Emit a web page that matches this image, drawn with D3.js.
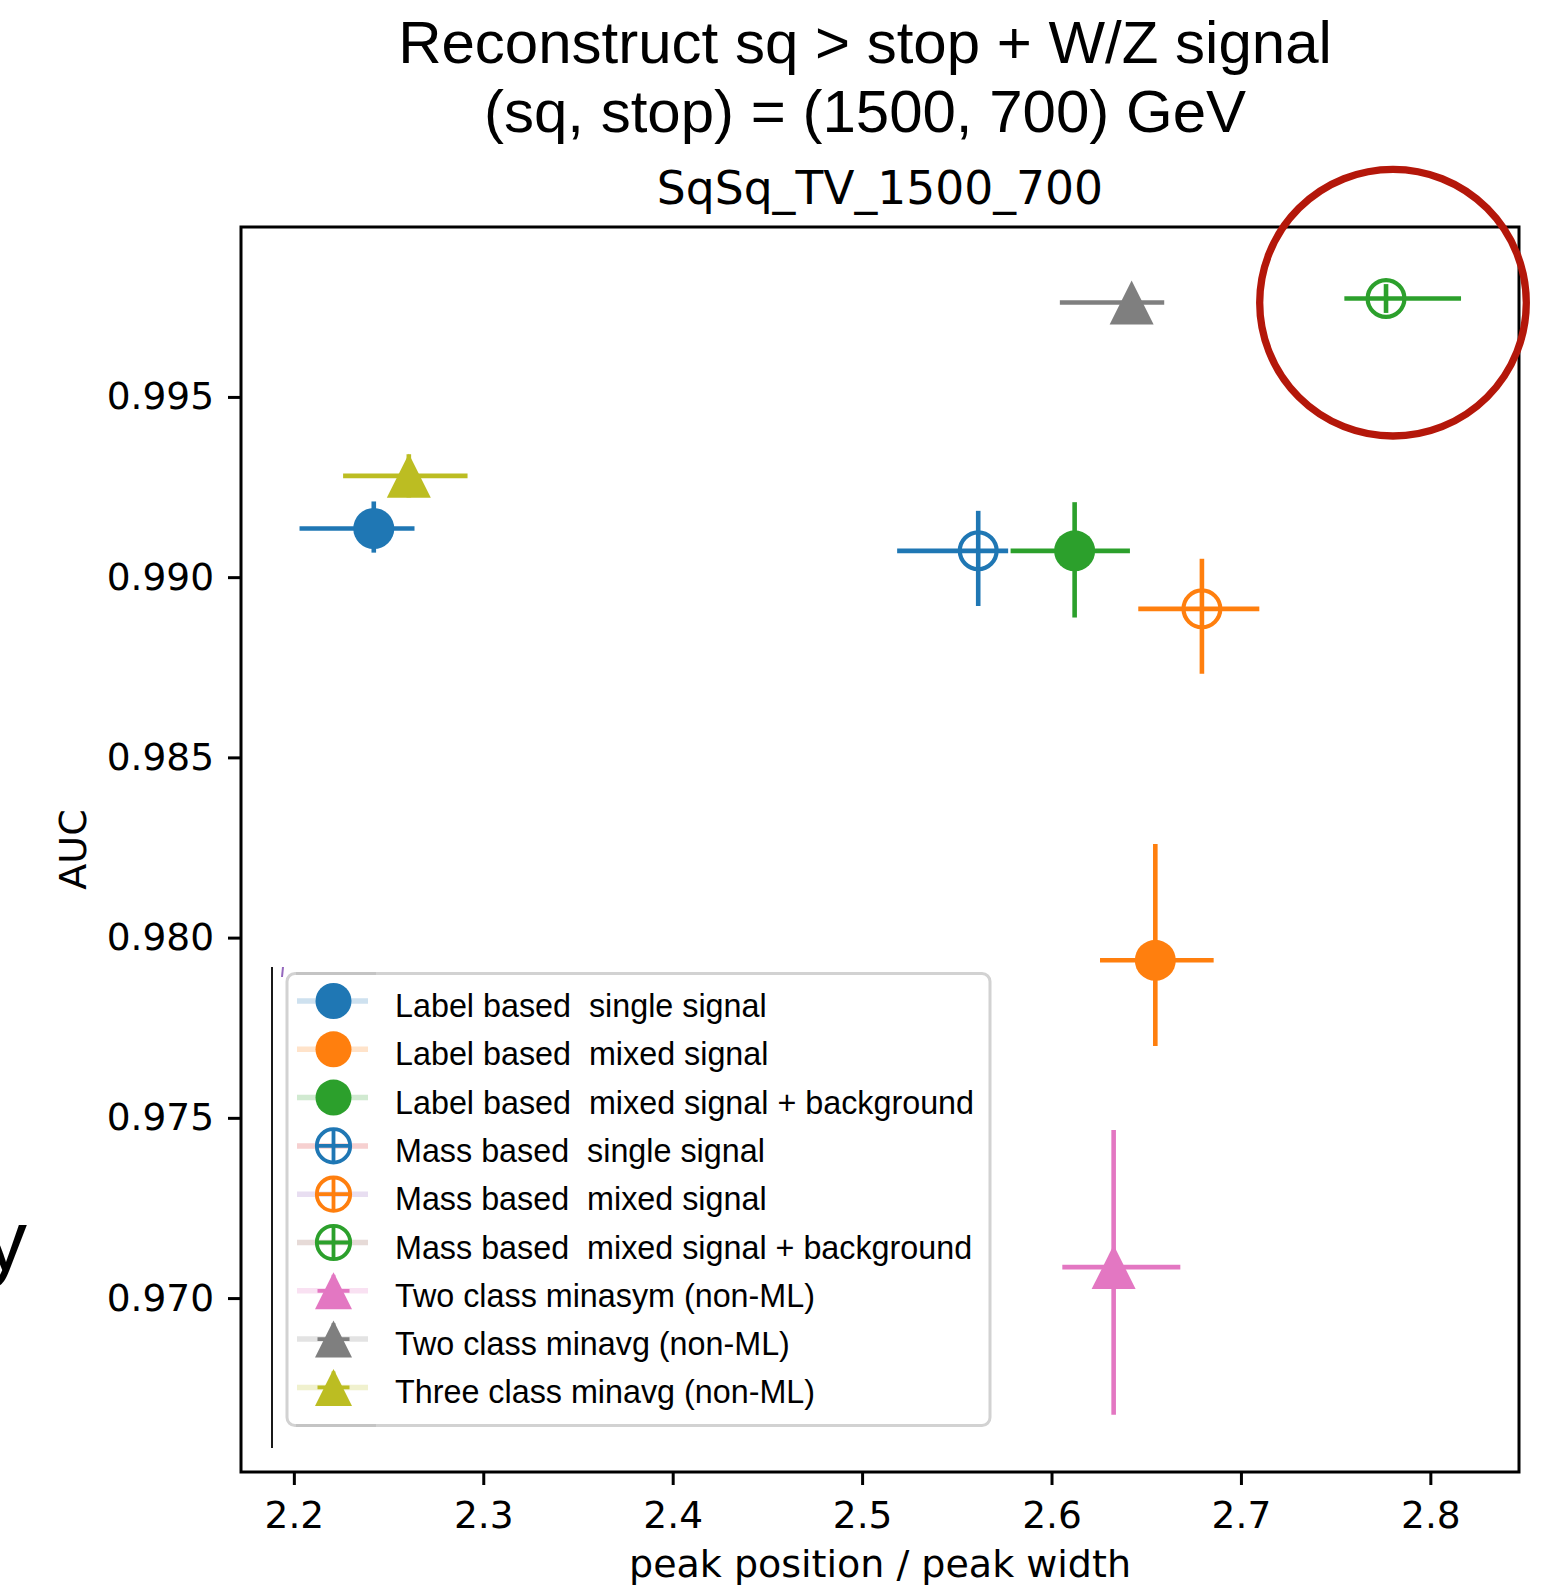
<!DOCTYPE html>
<html>
<head>
<meta charset="utf-8">
<script src="https://cdn.jsdelivr.net/npm/d3@7"></script>
<style>
  html, body { margin: 0; padding: 0; background: #fff; }
  svg { display: block; }
</style>
</head>
<body>
<div id="chart"></div>
<script>
// Series data
const seriesNames = [
  'Label based  single signal',
  'Label based  mixed signal',
  'Label based  mixed signal + background',
  'Mass based  single signal',
  'Mass based  mixed signal',
  'Mass based  mixed signal + background',
  'Two class minasym (non-ML)',
  'Two class minavg (non-ML)',
  'Three class minavg (non-ML)'
];
const xValues   = [2.2422, 2.6548, 2.6122, 2.5613, 2.6794, 2.7766, 2.6328, 2.6423, 2.2607];
const xErrLow   = [0.0392, 0.0292, 0.0338, 0.0428, 0.0336, 0.0220, 0.0271, 0.0379, 0.0347];
const xErrHigh  = [0.0215, 0.0308, 0.0292, 0.0158, 0.0303, 0.0396, 0.0352, 0.0172, 0.0310];
const yValues   = [0.99135, 0.97937, 0.99073, 0.99073, 0.98912, 0.99773, 0.97086, 0.99762, 0.99281];
const yErrLow   = [0.00067, 0.00238, 0.00185, 0.00153, 0.00180, 0.00040, 0.00410, 0.00030, 0.00060];
const yErrHigh  = [0.00075, 0.00323, 0.00135, 0.00111, 0.00139, 0.00040, 0.00380, 0.00030, 0.00060];

const xTicks = [2.2, 2.3, 2.4, 2.5, 2.6, 2.7, 2.8];
const yTicks = [0.970, 0.975, 0.980, 0.985, 0.990, 0.995];

// Styles (kept apart from the data)
const markerColors = ['#1f77b4', '#ff7f0e', '#2ca02c', '#1f77b4', '#ff7f0e', '#2ca02c', '#e377c2', '#7f7f7f', '#bcbd22'];
const markerKinds  = ['dot', 'dot', 'dot', 'ring', 'ring', 'ring', 'tri', 'tri', 'tri'];
const paleColors   = ['#1f77b4', '#ff7f0e', '#2ca02c', '#d62728', '#9467bd', '#8c564b', '#e377c2', '#7f7f7f', '#bcbd22'];

const W = 1548, H = 1585;
const plot = { left: 241, right: 1519, top: 227, bottom: 1472 };
const sansMpl = "'DejaVu Sans', sans-serif";
const sansHelv = "'Liberation Sans', Arial, Helvetica, sans-serif";

const svg = d3.select('#chart').append('svg')
  .attr('width', W).attr('height', H)
  .style('background', '#fff');

const x = d3.scaleLinear().domain([2.1721, 2.8468]).range([plot.left, plot.right]);
const y = d3.scaleLinear().domain([0.965175, 0.999714]).range([plot.bottom, plot.top]);

// Titles
svg.append('text').attr('x', 865).attr('y', 63)
  .attr('text-anchor', 'middle').style('font-family', sansHelv).style('font-size', '60px')
  .text('Reconstruct sq > stop + W/Z signal');
svg.append('text').attr('x', 865).attr('y', 132)
  .attr('text-anchor', 'middle').style('font-family', sansHelv).style('font-size', '60px')
  .text('(sq, stop) = (1500, 700) GeV');
svg.append('text').attr('x', (plot.left + plot.right) / 2).attr('y', 204)
  .attr('text-anchor', 'middle').style('font-family', sansMpl).style('font-size', '45.6px')
  .text('SqSq_TV_1500_700');

// stray glyph on the left edge
svg.append('text').attr('x', 27).attr('y', 1270)
  .attr('text-anchor', 'end').style('font-family', sansHelv).style('font-size', '86px')
  .text('y');

// Axes
const xAxis = svg.append('g')
  .attr('transform', `translate(0,${plot.bottom})`)
  .call(d3.axisBottom(x).tickValues(xTicks).tickFormat(d3.format('.1f')).tickSize(13).tickPadding(16));
const yAxis = svg.append('g')
  .attr('transform', `translate(${plot.left},0)`)
  .call(d3.axisLeft(y).tickValues(yTicks).tickFormat(d3.format('.3f')).tickSize(13).tickPadding(14));

[xAxis, yAxis].forEach(a => {
  a.select('.domain').remove();
  a.selectAll('.tick line').attr('stroke', '#000').attr('stroke-width', 3);
  a.selectAll('.tick text').attr('fill', '#000')
    .style('font-family', sansMpl).style('font-size', '37.5px');
});

svg.append('text').attr('x', (plot.left + plot.right) / 2).attr('y', 1577)
  .attr('text-anchor', 'middle').style('font-family', sansMpl).style('font-size', '38px')
  .text('peak position / peak width');
svg.append('text')
  .attr('transform', `translate(86,${(plot.top + plot.bottom) / 2}) rotate(-90)`)
  .attr('text-anchor', 'middle').style('font-family', sansMpl).style('font-size', '38px')
  .text('AUC');

// Marker drawing helper
function triPath(s) {
  return `M0,${-s}L${s},${s}L${-s},${s}Z`;
}
function drawMarker(g, kind, color, big) {
  if (kind === 'dot') {
    g.append('circle').attr('r', big ? 20.5 : 18).attr('fill', color);
  } else if (kind === 'ring') {
    g.append('circle').attr('r', big ? 18.4 : 16.7).attr('fill', 'none')
      .attr('stroke', color).attr('stroke-width', big ? 4.2 : 3.8);
  } else {
    g.append('path').attr('d', triPath(big ? 22 : 18.5)).attr('fill', color);
  }
}

// Error bars and markers
const pts = svg.append('g');
seriesNames.forEach((name, i) => {
  const g = pts.append('g');
  const c = markerColors[i];
  g.append('line')
    .attr('x1', x(xValues[i] - xErrLow[i])).attr('x2', x(xValues[i] + xErrHigh[i]))
    .attr('y1', y(yValues[i])).attr('y2', y(yValues[i]))
    .attr('stroke', c).attr('stroke-width', 4.6);
  g.append('line')
    .attr('x1', x(xValues[i])).attr('x2', x(xValues[i]))
    .attr('y1', y(yValues[i] - yErrLow[i])).attr('y2', y(yValues[i] + yErrHigh[i]))
    .attr('stroke', c).attr('stroke-width', 4.6);
  const m = g.append('g').attr('transform', `translate(${x(xValues[i])},${y(yValues[i])})`);
  drawMarker(m, markerKinds[i], c, true);
});

// Frame
svg.append('rect')
  .attr('x', plot.left).attr('y', plot.top)
  .attr('width', plot.right - plot.left).attr('height', plot.bottom - plot.top)
  .attr('fill', 'none').attr('stroke', '#000').attr('stroke-width', 3);

// Legend
const leg = svg.append('g');
leg.append('line').attr('x1', 272).attr('x2', 272).attr('y1', 967).attr('y2', 1448)
  .attr('stroke', '#000').attr('stroke-width', 1.8);
leg.append('line').attr('x1', 283).attr('x2', 282).attr('y1', 967).attr('y2', 977)
  .attr('stroke', '#9467bd').attr('stroke-width', 2);
leg.append('rect')
  .attr('x', 287).attr('y', 973.5).attr('width', 703).attr('height', 452).attr('rx', 8)
  .attr('fill', '#fff').attr('fill-opacity', 0.8)
  .attr('stroke', '#d2d2d2').attr('stroke-width', 3);
[973.5, 1425.5].forEach(yy => {
  leg.append('line').attr('x1', 296).attr('x2', 376).attr('y1', yy).attr('y2', yy)
    .attr('stroke', '#c4c4c4').attr('stroke-width', 3);
});

const rowStep = 48.3;
seriesNames.forEach((name, i) => {
  const cy = 1001 + i * rowStep;
  const c = markerColors[i];
  leg.append('line').attr('x1', 297).attr('x2', 368).attr('y1', cy).attr('y2', cy)
    .attr('stroke', paleColors[i]).attr('stroke-opacity', 0.22).attr('stroke-width', 5.5);
  const h = leg.append('g').attr('transform', `translate(333.5,${cy})`);
  h.append('line').attr('x1', -16).attr('x2', 16).attr('stroke', c).attr('stroke-width', 3.8);
  h.append('line').attr('y1', -16).attr('y2', 16).attr('stroke', c).attr('stroke-width', 3.8);
  drawMarker(h, markerKinds[i], c, false);
  leg.append('text').attr('x', 395).attr('y', cy + 16)
    .style('font-family', sansHelv).style('font-size', '32.3px')
    .style('white-space', 'pre').attr('xml:space', 'preserve')
    .text(name);
});

// Red annotation circle
svg.append('circle')
  .attr('cx', 1393).attr('cy', 302.7).attr('r', 133.3)
  .attr('fill', 'none').attr('stroke', '#b4170a').attr('stroke-width', 7.3);
</script>
</body>
</html>
